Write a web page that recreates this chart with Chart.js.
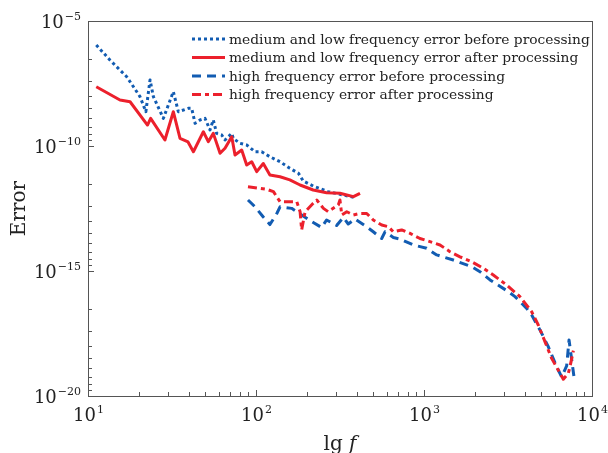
<!DOCTYPE html>
<html>
<head>
<meta charset="utf-8">
<script src="https://cdn.jsdelivr.net/npm/chart.js@4.4.0/dist/chart.umd.min.js"></script>
<style>
  html, body { margin: 0; padding: 0; background: #fff; }
  #wrap { width: 608px; height: 453px; }
</style>
</head>
<body>
<div id="wrap"><canvas id="chart" width="608" height="453"></canvas></div>
<script>
// medium and low frequency error before processing (blue dotted)
const mlBeforeF = [11.2, 13.5, 17.0, 20.4, 22.1, 23.4, 24.5, 28.1, 32.2, 34.5, 39.5, 41.4, 43.4, 46.4, 49.7, 53.2, 55.7, 58.3, 62.5, 65.4, 71.7, 73.3, 80.3, 88.0, 98.6, 108, 121, 139, 159, 179, 191, 219, 268, 330, 388];
const mlBeforeE = [1.1e-6, 2.75e-7, 5.9e-8, 9.4e-9, 2.35e-9, 4.4e-8, 9.4e-9, 1.28e-9, 1.49e-8, 2.35e-9, 3.2e-9, 3.2e-9, 8.1e-10, 1.1e-9, 1.28e-9, 4.4e-10, 1.1e-9, 3.2e-10, 2.75e-10, 1.74e-10, 3.2e-10, 2.0e-10, 1.28e-10, 1.1e-10, 5.9e-11, 5.9e-11, 3.7e-11, 2.35e-11, 1.28e-11, 8.1e-12, 4.0e-12, 2.5e-12, 1.5e-12, 1.1e-12, 8.7e-13];

// medium and low frequency error after processing (red solid)
const mlAfterF = [11.2, 15.5, 17.8, 22.6, 23.6, 28.7, 32.2, 35.3, 39.4, 42.4, 48.6, 52.0, 55.7, 61.1, 65.4, 71.7, 75.0, 82.2, 88.0, 94.3, 101, 110.5, 121, 139, 159, 183, 219, 263, 316, 347, 380, 416];
const mlAfterE = [2.35e-8, 6.9e-9, 5.9e-9, 6.9e-10, 1.28e-9, 1.74e-10, 2.35e-9, 2.0e-10, 1.45e-10, 5.9e-11, 3.7e-10, 1.49e-10, 3.2e-10, 5.1e-11, 8.1e-11, 2.35e-10, 4.4e-11, 6.9e-11, 1.74e-11, 2.35e-11, 9.4e-12, 2.0e-11, 6.9e-12, 5.9e-12, 4.4e-12, 2.75e-12, 1.74e-12, 1.35e-12, 1.28e-12, 1.1e-12, 9.4e-13, 1.28e-12];

// high frequency error before processing (blue dashed)
const hiBeforeF = [89.6, 98.6, 110.5, 121, 133, 139, 163, 187, 215, 246, 263, 302, 331, 354, 388, 456, 499, 560, 586, 657, 719, 864, 1037, 1190, 1494, 1922, 2154, 2472, 3177, 3481, 4084, 4375, 4900, 5492, 6160, 6600, 7066, 7300, 7815];
const hiBeforeE = [6.9e-13, 3.7e-13, 1.45e-13, 7.2e-14, 2.0e-13, 3.7e-13, 3.2e-13, 1.74e-13, 9.4e-14, 5.5e-14, 1.1e-13, 6.6e-14, 1.38e-13, 7.6e-14, 1.2e-13, 5.9e-14, 3.7e-14, 2.0e-14, 3.7e-14, 2.2e-14, 1.9e-14, 1.1e-14, 8.1e-15, 4.4e-15, 2.75e-15, 1.49e-15, 9.4e-16, 4.4e-16, 1.49e-16, 9.4e-17, 3.2e-17, 1.74e-17, 4.4e-18, 9.4e-19, 1.49e-19, 5.75e-20, 1.6e-19, 1.74e-18, 5.75e-20];

// high frequency error after processing (red dash-dot)
const hiAfterF = [89.6, 116, 127, 139, 175, 183, 187, 196, 219, 230, 252, 269, 309, 316, 324, 347, 380, 416, 456, 499, 560, 613, 657, 736, 826, 946, 1086, 1245, 1428, 1638, 1922, 2254, 2585, 3103, 3725, 4375, 4789, 5248, 5752, 6450, 6750, 7228, 7396, 7745];
const hiAfterE = [2.35e-12, 1.85e-12, 1.49e-12, 5.9e-13, 5.9e-13, 2.35e-13, 4.4e-14, 2.35e-13, 5.1e-13, 6.9e-13, 3.2e-13, 2.35e-13, 4.4e-13, 6.9e-13, 1.74e-13, 2.35e-13, 1.74e-13, 2.0e-13, 2.0e-13, 1.1e-13, 6.9e-14, 5.9e-14, 3.7e-14, 4.4e-14, 3.2e-14, 2.0e-14, 1.49e-14, 1.1e-14, 5.9e-15, 3.7e-15, 2.35e-15, 1.28e-15, 6.9e-16, 2.75e-16, 9.4e-17, 2.35e-17, 6.9e-18, 1.49e-18, 3.2e-19, 8.1e-20, 4.66e-20, 8.1e-20, 1.49e-19, 6.5e-19];

const seriesNames = [
  "medium and low frequency error before processing",
  "medium and low frequency error after processing",
  "high frequency error before processing",
  "high frequency error after processing"
];

// axis ticks
const xMajorTicks = [10, 100, 1000, 10000];
const xTickExps = ["1", "2", "3", "4"];
const yMajorTicks = [1e-5, 1e-10, 1e-15, 1e-20];
const yTickExps = ["\u22125", "\u221210", "\u221215", "\u221220"];
const xTitle = ["lg ", "f"];
const yTitle = "Error";

const BLUE = "rgb(18, 92, 178)";
const RED = "rgb(236, 32, 44)";
const SERIF = "'DejaVu Serif', serif";

const lineStyles = [
  { color: BLUE, dash: [3, 3] },
  { color: RED, dash: [] },
  { color: BLUE, dash: [9, 6] },
  { color: RED, dash: [9, 4, 4, 4] }
];

function toPoints(fs, es) {
  return fs.map((f, i) => ({ x: f, y: es[i] }));
}

const allData = [
  toPoints(mlBeforeF, mlBeforeE),
  toPoints(mlAfterF, mlAfterE),
  toPoints(hiBeforeF, hiBeforeE),
  toPoints(hiAfterF, hiAfterE)
];

function drawPow(ctx, base, exp, x, y, align, size) {
  ctx.font = size + "px " + SERIF;
  const bw = ctx.measureText(base).width;
  ctx.font = Math.round(size * 0.62) + "px " + SERIF;
  const ew = ctx.measureText(exp).width;
  let start = x;
  if (align === "center") start = x - (bw + ew) / 2;
  if (align === "right") start = x - (bw + ew);
  ctx.textAlign = "left";
  ctx.textBaseline = "alphabetic";
  ctx.font = size + "px " + SERIF;
  ctx.fillText(base, start, y);
  ctx.font = Math.round(size * 0.62) + "px " + SERIF;
  ctx.fillText(exp, start + bw + 1, y - size * 0.45);
}

const decoPlugin = {
  id: "deco",
  afterDraw(chart) {
    const ctx = chart.ctx;
    const { left, right, top, bottom } = chart.chartArea;
    const xs = chart.scales.x;
    const ys = chart.scales.y;
    ctx.save();

    // frame
    ctx.strokeStyle = "#555";
    ctx.lineWidth = 1;
    ctx.setLineDash([]);
    ctx.strokeRect(Math.round(left) + 0.5, Math.round(top) + 0.5, Math.round(right - left), Math.round(bottom - top));

    // x ticks (pointing inwards)
    ctx.beginPath();
    for (let d = 10; d < 10000; d *= 10) {
      for (let k = 1; k <= 9; k++) {
        const px = Math.round(xs.getPixelForValue(d * k)) + 0.5;
        const len = k === 1 ? 6 : 4;
        ctx.moveTo(px, bottom);
        ctx.lineTo(px, bottom - len);
      }
    }
    // y ticks: majors every 5 decades, minors inside each block
    for (let b = 0; b < yMajorTicks.length; b++) {
      const topExp = Math.log10(yMajorTicks[b]);
      let py = Math.round(ys.getPixelForValue(yMajorTicks[b])) + 0.5;
      ctx.moveTo(left, py);
      ctx.lineTo(left + 6, py);
      if (b === yMajorTicks.length - 1) break;
      for (let k = 2; k <= 9; k++) {
        const v = Math.pow(10, topExp - 5 * Math.log10(k));
        py = Math.round(ys.getPixelForValue(v)) + 0.5;
        ctx.moveTo(left, py);
        ctx.lineTo(left + 4, py);
      }
    }
    ctx.stroke();

    // tick labels
    ctx.fillStyle = "#222";
    xMajorTicks.forEach((v, i) => {
      drawPow(ctx, "10", xTickExps[i], xs.getPixelForValue(v), bottom + 25, "center", 18);
    });
    yMajorTicks.forEach((v, i) => {
      drawPow(ctx, "10", yTickExps[i], left - 8, ys.getPixelForValue(v) + 7, "right", 18);
    });

    // axis titles
    ctx.font = "20px " + SERIF;
    ctx.textAlign = "left";
    const w1 = ctx.measureText(xTitle[0]).width;
    ctx.font = "italic 20px " + SERIF;
    const w2 = ctx.measureText(xTitle[1]).width;
    const cx = (left + right) / 2;
    ctx.font = "20px " + SERIF;
    ctx.fillText(xTitle[0], cx - (w1 + w2) / 2, 450);
    ctx.font = "italic 20px " + SERIF;
    ctx.fillText(xTitle[1], cx - (w1 + w2) / 2 + w1, 450);

    ctx.save();
    ctx.translate(25, (top + bottom) / 2);
    ctx.rotate(-Math.PI / 2);
    ctx.font = "20px " + SERIF;
    ctx.textAlign = "center";
    ctx.fillText(yTitle, 0, 0);
    ctx.restore();

    // legend
    const lx0 = 192, lx1 = 225, tx = 229;
    const rowY = [39, 57.5, 76, 94.5];
    ctx.font = "13.8px " + SERIF;
    ctx.textBaseline = "middle";
    ctx.textAlign = "left";
    seriesNames.forEach((name, i) => {
      const st = lineStyles[i];
      ctx.strokeStyle = st.color;
      ctx.lineWidth = 3;
      ctx.setLineDash(st.dash);
      ctx.beginPath();
      ctx.moveTo(lx0, rowY[i]);
      ctx.lineTo(lx1, rowY[i]);
      ctx.stroke();
      ctx.setLineDash([]);
      ctx.fillStyle = "#222";
      ctx.fillText(name, tx, rowY[i] + 1);
    });
    ctx.restore();
  }
};

new Chart(document.getElementById("chart"), {
  type: "line",
  data: {
    datasets: allData.map((pts, i) => ({
      label: seriesNames[i],
      data: pts,
      borderColor: lineStyles[i].color,
      borderDash: lineStyles[i].dash,
      borderWidth: 3,
      borderJoinStyle: "round",
      pointRadius: 0,
      tension: 0,
      fill: false,
      order: i % 2 === 1 ? 0 : 1
    }))
  },
  options: {
    responsive: false,
    devicePixelRatio: 1,
    animation: false,
    layout: { padding: { top: 21, right: 16, left: 0, bottom: 0 } },
    plugins: { legend: { display: false }, tooltip: { enabled: false } },
    scales: {
      x: {
        type: "logarithmic",
        min: 10,
        max: 10000,
        grid: { display: false },
        border: { display: false },
        ticks: { display: false },
        afterFit(scale) { scale.height = 57; }
      },
      y: {
        type: "logarithmic",
        min: 1e-20,
        max: 1e-5,
        grid: { display: false },
        border: { display: false },
        ticks: { display: false },
        afterFit(scale) { scale.width = 88; }
      }
    }
  },
  plugins: [decoPlugin]
});
</script>
</body>
</html>
